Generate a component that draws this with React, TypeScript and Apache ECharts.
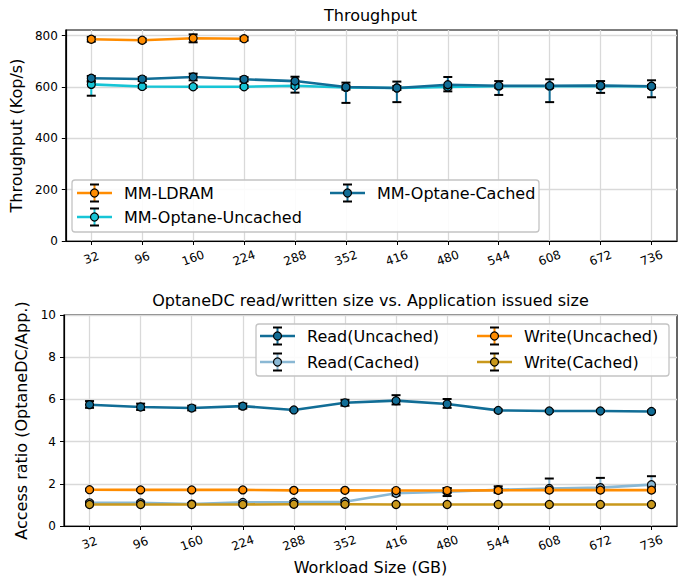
import React, { useEffect, useRef } from "react";
import * as echarts from "echarts";

// ---------- data ----------
const categories = ["32", "96", "160", "224", "288", "352", "416", "480", "544", "608", "672", "736"];

const topNames = ["MM-LDRAM", "MM-Optane-Uncached", "MM-Optane-Cached"];
const topColors = ["#ff8c00", "#17c5d6", "#116d96"];

const ldram = [786, 782, 790, 788];
const ldramLow = [777, 776, 774, 781];
const ldramHigh = [795, 788, 805, 795];

const uncached = [610, 602, 601, 601, 605, 598, 596, 600, 603, 603, 604, 602];
const uncachedLow = [566, 596, 596, 596, 598, 590, 588, 594, 597, 597, 598, 596];
const uncachedHigh = [620, 608, 606, 606, 612, 606, 604, 606, 609, 609, 610, 608];

const cached = [634, 631, 639, 630, 623, 600, 596, 609, 605, 605, 606, 603];
const cachedLow = [624, 623, 626, 622, 578, 538, 541, 583, 569, 541, 577, 560];
const cachedHigh = [643, 638, 652, 638, 640, 617, 621, 639, 623, 630, 623, 626];

const topTicks = [0, 200, 400, 600, 800];

const botNames = ["Read(Uncached)", "Read(Cached)", "Write(Uncached)", "Write(Cached)"];
const botColors = ["#116d96", "#8ab8d4", "#ff8c00", "#c9981b"];

const readU = [5.75, 5.64, 5.59, 5.68, 5.5, 5.84, 5.94, 5.78, 5.48, 5.45, 5.45, 5.43];
const readULow = [5.6, 5.5, 5.48, 5.57, 5.46, 5.7, 5.76, 5.6, 5.44, 5.41, 5.41, 5.39];
const readUHigh = [5.92, 5.8, 5.7, 5.8, 5.54, 5.98, 6.2, 6.02, 5.52, 5.49, 5.49, 5.47];

const readC = [1.1, 1.1, 1.04, 1.12, 1.13, 1.15, 1.55, 1.62, 1.72, 1.78, 1.82, 1.96];
const readCLow = [1.05, 1.05, 1.0, 1.07, 1.08, 1.08, 1.45, 1.42, 1.58, 1.66, 1.7, 1.86];
const readCHigh = [1.15, 1.15, 1.08, 1.17, 1.18, 1.22, 1.65, 1.8, 1.88, 2.25, 2.28, 2.36];

const writeU = [1.72, 1.71, 1.71, 1.71, 1.69, 1.69, 1.68, 1.68, 1.69, 1.7, 1.7, 1.7];
const writeULow = [1.68, 1.67, 1.67, 1.67, 1.65, 1.65, 1.62, 1.58, 1.62, 1.66, 1.66, 1.66];
const writeUHigh = [1.76, 1.75, 1.75, 1.75, 1.73, 1.73, 1.74, 1.78, 1.76, 1.74, 1.74, 1.74];

const writeC = [1.02, 1.02, 1.02, 1.02, 1.03, 1.03, 1.02, 1.02, 1.02, 1.02, 1.02, 1.02];
const writeCLow = [0.99, 0.99, 0.99, 0.99, 1.0, 1.0, 0.99, 0.99, 0.99, 0.99, 0.99, 0.99];
const writeCHigh = [1.05, 1.05, 1.05, 1.05, 1.06, 1.06, 1.05, 1.05, 1.05, 1.05, 1.05, 1.05];

const botTicks = [0, 2, 4, 6, 8, 10];

// ---------- styling / layout ----------
const FONT = "DejaVu Sans";
const GRID_LEFT = 64;
const GRID_RIGHT = 15;
const TOP_GRID_TOP = 30;
const BOT_GRID_TOP = 315;
const GRID_H = 211;
const LEG_Z = 100;

function errorSeries(name: string, idx: number, color: string, low: number[], high: number[], z: number) {
  const data = low.map((l, i) => [i, l, high[i]]);
  return {
    type: "custom",
    name: name + " err",
    xAxisIndex: idx,
    yAxisIndex: idx,
    z,
    silent: true,
    encode: { x: 0, y: [1, 2] },
    data,
    renderItem: (params: any, api: any) => {
      const x = api.value(0);
      const lo = api.coord([x, api.value(1)]);
      const hi = api.coord([x, api.value(2)]);
      const cw = 4.5;
      return {
        type: "group",
        children: [
          { type: "line", shape: { x1: lo[0], y1: lo[1], x2: hi[0], y2: hi[1] }, style: { stroke: color, lineWidth: 2 } },
          { type: "line", shape: { x1: lo[0] - cw, y1: lo[1], x2: lo[0] + cw, y2: lo[1] }, style: { stroke: "#000", lineWidth: 2 } },
          { type: "line", shape: { x1: hi[0] - cw, y1: hi[1], x2: hi[0] + cw, y2: hi[1] }, style: { stroke: "#000", lineWidth: 2 } },
        ],
      };
    },
  };
}

function lineSeries(name: string, idx: number, color: string, values: number[], z: number) {
  return {
    type: "line",
    name,
    xAxisIndex: idx,
    yAxisIndex: idx,
    z,
    data: values,
    symbol: "circle",
    symbolSize: 8,
    showSymbol: true,
    lineStyle: { color, width: 2.6 },
    itemStyle: { color, borderColor: "#000", borderWidth: 1.2 },
    emphasis: { disabled: true },
  };
}

function legendGraphic(
  box: { x: number; y: number; w: number; h: number },
  items: { name: string; color: string; lx: number; y: number }[]
) {
  const els: any[] = [
    {
      type: "rect",
      z: LEG_Z,
      shape: { x: box.x, y: box.y, width: box.w, height: box.h, r: 3 },
      style: { fill: "rgba(255,255,255,0.88)", stroke: "#c4c4c4", lineWidth: 1.3 },
    },
  ];
  items.forEach((it) => {
    const cx = it.lx + 17.5;
    els.push(
      { type: "line", z: LEG_Z + 1, shape: { x1: it.lx, y1: it.y, x2: it.lx + 35, y2: it.y }, style: { stroke: it.color, lineWidth: 2.6 } },
      { type: "line", z: LEG_Z + 2, shape: { x1: cx, y1: it.y - 8.5, x2: cx, y2: it.y + 8.5 }, style: { stroke: it.color, lineWidth: 2 } },
      { type: "line", z: LEG_Z + 2, shape: { x1: cx - 4.5, y1: it.y - 8.5, x2: cx + 4.5, y2: it.y - 8.5 }, style: { stroke: "#000", lineWidth: 2 } },
      { type: "line", z: LEG_Z + 2, shape: { x1: cx - 4.5, y1: it.y + 8.5, x2: cx + 4.5, y2: it.y + 8.5 }, style: { stroke: "#000", lineWidth: 2 } },
      { type: "circle", z: LEG_Z + 3, shape: { cx, cy: it.y, r: 4 }, style: { fill: it.color, stroke: "#000", lineWidth: 1.2 } },
      {
        type: "text",
        z: LEG_Z + 3,
        x: it.lx + 47,
        y: it.y,
        style: {
          text: it.name,
          fill: "#000",
          fontSize: 16,
          fontFamily: FONT,
          verticalAlign: "middle",
          align: "left",
        },
      }
    );
  });
  return els;
}

function xAxisCfg(idx: number, withName: boolean) {
  return {
    type: "category",
    gridIndex: idx,
    data: categories,
    boundaryGap: true,
    name: withName ? "Workload Size (GB)" : "",
    nameLocation: "middle",
    nameGap: 33,
    nameTextStyle: { fontSize: 16, fontFamily: FONT, color: "#000" },
    axisLine: { show: true, lineStyle: { color: "#000", width: 1.2 } },
    axisTick: { show: true, alignWithLabel: true, length: 4, lineStyle: { color: "#000" } },
    axisLabel: {
      interval: 0,
      rotate: 20,
      align: "center",
      verticalAlign: "middle",
      margin: 17,
      fontSize: 12,
      fontFamily: FONT,
      color: "#000",
    },
    splitLine: { show: true, alignWithLabel: true, lineStyle: { color: "#d9d9d9", width: 1.3 } },
  };
}

export default function App() {
  const ref = useRef<HTMLDivElement>(null);

  useEffect(() => {
    document.body.style.margin = "0";
    if (!ref.current) return;
    const chart = echarts.init(ref.current, undefined, { renderer: "svg" });

    const plotCenter = GRID_LEFT + (692 - GRID_LEFT - GRID_RIGHT) / 2;

    const option: any = {
      animation: false,
      backgroundColor: "#fff",
      textStyle: { fontFamily: FONT },
      title: [
        {
          text: "Throughput",
          left: plotCenter,
          textAlign: "center",
          top: 7,
          padding: 0,
          textStyle: { fontSize: 16, fontWeight: "normal", fontFamily: FONT, color: "#000" },
        },
        {
          text: "OptaneDC read/written size vs. Application issued size",
          left: plotCenter,
          textAlign: "center",
          top: 292,
          padding: 0,
          textStyle: { fontSize: 16, fontWeight: "normal", fontFamily: FONT, color: "#000" },
        },
      ],
      grid: [
        { left: GRID_LEFT, right: GRID_RIGHT, top: TOP_GRID_TOP, height: GRID_H, show: true, borderColor: "#000", borderWidth: 1.2, backgroundColor: "transparent" },
        { left: GRID_LEFT, right: GRID_RIGHT, top: BOT_GRID_TOP, height: GRID_H, show: true, borderColor: "#000", borderWidth: 1.2, backgroundColor: "transparent" },
      ],
      xAxis: [xAxisCfg(0, false), xAxisCfg(1, true)],
      yAxis: [
        {
          type: "value",
          gridIndex: 0,
          min: 0,
          max: 822,
          interval: 200,
          name: "Throughput (Kop/s)",
          nameLocation: "middle",
          nameGap: 39,
          nameTextStyle: { fontSize: 16, fontFamily: FONT, color: "#000" },
          axisLine: { show: true, lineStyle: { color: "#000", width: 1.2 } },
          axisTick: { show: true, length: 4, customValues: topTicks, lineStyle: { color: "#000" } },
          axisLabel: { fontSize: 12, fontFamily: FONT, color: "#000", margin: 8, customValues: topTicks },
          splitLine: { show: true, lineStyle: { color: "#d9d9d9", width: 1.3 } },
        },
        {
          type: "value",
          gridIndex: 1,
          min: 0,
          max: 10,
          interval: 2,
          name: "Access ratio (OptaneDC/App.)",
          nameLocation: "middle",
          nameGap: 31,
          nameTextStyle: { fontSize: 16, fontFamily: FONT, color: "#000" },
          axisLine: { show: true, lineStyle: { color: "#000", width: 1.2 } },
          axisTick: { show: true, length: 4, customValues: botTicks, lineStyle: { color: "#000" } },
          axisLabel: { fontSize: 12, fontFamily: FONT, color: "#000", margin: 8, customValues: botTicks },
          splitLine: { show: true, lineStyle: { color: "#d9d9d9", width: 1.3 } },
        },
      ],
      series: [
        errorSeries(topNames[0], 0, topColors[0], ldramLow, ldramHigh, 10),
        lineSeries(topNames[0], 0, topColors[0], ldram, 11),
        errorSeries(topNames[1], 0, topColors[1], uncachedLow, uncachedHigh, 12),
        lineSeries(topNames[1], 0, topColors[1], uncached, 13),
        errorSeries(topNames[2], 0, topColors[2], cachedLow, cachedHigh, 14),
        lineSeries(topNames[2], 0, topColors[2], cached, 15),

        errorSeries(botNames[0], 1, botColors[0], readULow, readUHigh, 10),
        lineSeries(botNames[0], 1, botColors[0], readU, 11),
        errorSeries(botNames[1], 1, botColors[1], readCLow, readCHigh, 12),
        lineSeries(botNames[1], 1, botColors[1], readC, 13),
        errorSeries(botNames[2], 1, botColors[2], writeULow, writeUHigh, 14),
        lineSeries(botNames[2], 1, botColors[2], writeU, 15),
        errorSeries(botNames[3], 1, botColors[3], writeCLow, writeCHigh, 16),
        lineSeries(botNames[3], 1, botColors[3], writeC, 17),
      ],
      graphic: [
        ...legendGraphic({ x: 72, y: 180, w: 467, h: 52 }, [
          { name: topNames[0], color: topColors[0], lx: 77, y: 193 },
          { name: topNames[1], color: topColors[1], lx: 77, y: 217 },
          { name: topNames[2], color: topColors[2], lx: 330, y: 193 },
        ]),
        ...legendGraphic({ x: 256, y: 324, w: 413, h: 52 }, [
          { name: botNames[0], color: botColors[0], lx: 260, y: 336 },
          { name: botNames[1], color: botColors[1], lx: 260, y: 362 },
          { name: botNames[2], color: botColors[2], lx: 477, y: 336 },
          { name: botNames[3], color: botColors[3], lx: 477, y: 362 },
        ]),
      ],
    };

    chart.setOption(option);
    return () => {
      chart.dispose();
    };
  }, []);

  return <div ref={ref} style={{ width: 692, height: 586 }} />;
}
